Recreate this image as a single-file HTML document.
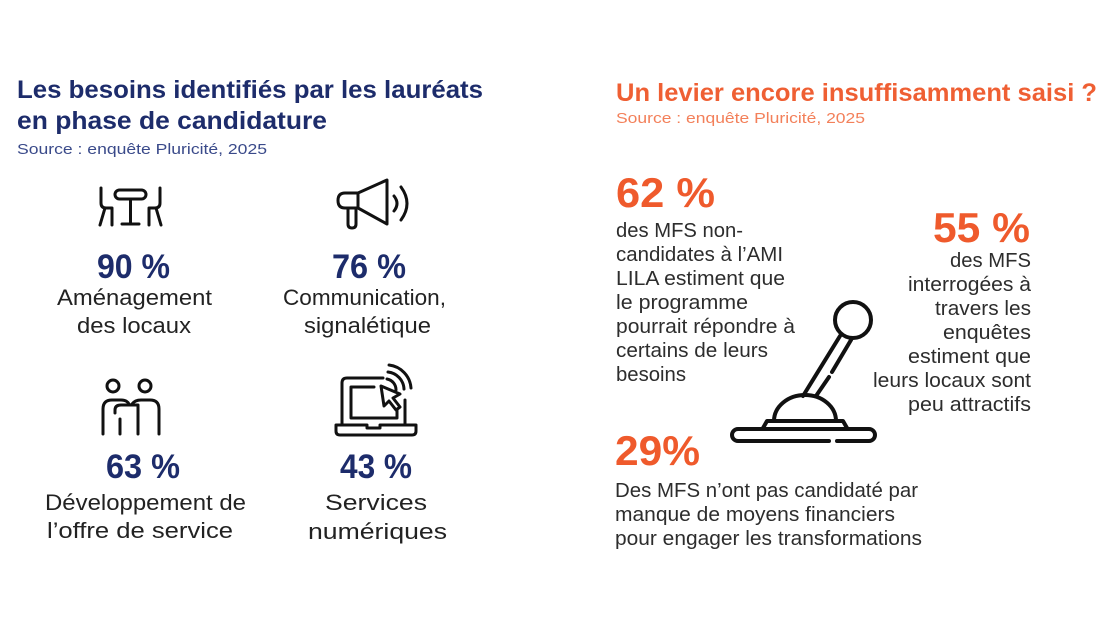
<!DOCTYPE html>
<html>
<head>
<meta charset="utf-8">
<style>
  html,body{margin:0;padding:0;background:#fff;}
  svg{display:block;}
  text{font-family:"Liberation Sans", Arial, sans-serif;}
</style>
</head>
<body>
<svg width="1118" height="630" viewBox="0 0 1118 630" xmlns="http://www.w3.org/2000/svg">
  <rect x="0" y="0" width="1118" height="630" fill="#ffffff"/>

  <!-- LEFT TITLE -->
  <text x="17" y="98" font-size="25" font-weight="bold" fill="#1d2c6b" textLength="466" lengthAdjust="spacingAndGlyphs">Les besoins identifiés par les lauréats</text>
  <text x="17" y="129" font-size="25" font-weight="bold" fill="#1d2c6b" textLength="310" lengthAdjust="spacingAndGlyphs">en phase de candidature</text>
  <text x="17" y="154" font-size="15" fill="#3a4a8a" textLength="250" lengthAdjust="spacingAndGlyphs">Source : enquête Pluricité, 2025</text>

  <!-- RIGHT TITLE -->
  <text x="616" y="101" font-size="25" font-weight="bold" fill="#ef5f33" textLength="481" lengthAdjust="spacingAndGlyphs">Un levier encore insuffisamment saisi ?</text>
  <text x="616" y="123" font-size="15" fill="#f3805a" textLength="249" lengthAdjust="spacingAndGlyphs">Source : enquête Pluricité, 2025</text>

  <!-- ICONS LEFT -->
  <g fill="none" stroke="#111" stroke-width="3" stroke-linecap="round" stroke-linejoin="round">
    <!-- table & chairs -->
    <path d="M101,188 V203 Q101,208 106,208 H112 V225 M105,208 L100,225"/>
    <path d="M160,188 V203 Q160,208 155,208 H149 V225 M156,208 L161,225"/>
    <rect x="115" y="190" width="31" height="9" rx="4.5"/>
    <path d="M130.5,199 V223 M122,224 H139"/>

    <!-- megaphone -->
    <path d="M358,193 H345 Q338,193 338,200.5 Q338,208 345,208 H358 Z"/>
    <path d="M358,193 L387,180 V224 L358,208 Z"/>
    <path d="M348,208 V224 Q348,228 352,228 Q356,228 356,224 V208"/>
    <path d="M394,196 Q400,203.5 394,211"/>
    <path d="M401,187 Q413,203.5 401,220"/>

    <!-- people -->
    <circle cx="113" cy="386" r="6"/>
    <circle cx="145" cy="386" r="6"/>
    <path d="M103,434 V409 Q103,400 112,400 H121 Q127,400 129,404"/>
    <path d="M159,434 V409 Q159,400 150,400 H141 Q135,400 132,404"/>
    <path d="M115,413 V410 Q115,405 121,405 H138 V434"/>
    <path d="M120,419 V434"/>

    <!-- laptop -->
    <path d="M383,378 H347 Q342,378 342,383 V425"/>
    <path d="M405,400 V425"/>
    <path d="M374,387 H351 V418 H397 V410"/>
    <path d="M336,425 H367 V428 H380 V425 H416 V431 Q416,435 412,435 H340 Q336,435 336,431 Z"/>
    <path d="M381,386 L384,406 L389,401 L396,410 L400,407 L393,398 L400,394 Z"/>
    <path d="M387,379 A11,11 0 0 1 396,390"/>
    <path d="M388,372 A18,18 0 0 1 404,389"/>
    <path d="M389,365 A25,25 0 0 1 411,388"/>
  </g>

  <!-- LEFT PERCENTAGES -->
  <g font-weight="bold" font-size="34" fill="#1d2c6b">
    <text x="97" y="278" textLength="73" lengthAdjust="spacingAndGlyphs">90 %</text>
    <text x="332" y="278" textLength="74" lengthAdjust="spacingAndGlyphs">76 %</text>
    <text x="106" y="478" textLength="74" lengthAdjust="spacingAndGlyphs">63 %</text>
    <text x="340" y="478" textLength="72" lengthAdjust="spacingAndGlyphs">43 %</text>
  </g>

  <!-- LEFT LABELS -->
  <g font-size="22" fill="#222">
    <text x="57" y="305" textLength="155" lengthAdjust="spacingAndGlyphs">Aménagement</text>
    <text x="77" y="333" textLength="114" lengthAdjust="spacingAndGlyphs">des locaux</text>
    <text x="283" y="305" textLength="163" lengthAdjust="spacingAndGlyphs">Communication,</text>
    <text x="304" y="333" textLength="127" lengthAdjust="spacingAndGlyphs">signalétique</text>
    <text x="45" y="510" textLength="201" lengthAdjust="spacingAndGlyphs">Développement  de</text>
    <text x="47" y="538" textLength="186" lengthAdjust="spacingAndGlyphs">l’offre de service</text>
    <text x="325" y="510" textLength="102" lengthAdjust="spacingAndGlyphs">Services</text>
    <text x="308" y="539" textLength="139" lengthAdjust="spacingAndGlyphs">numériques</text>
  </g>

  <!-- RIGHT PERCENTAGES -->
  <g font-weight="bold" font-size="42" fill="#ef5a2c">
    <text x="616" y="207" textLength="99" lengthAdjust="spacingAndGlyphs">62 %</text>
    <text x="933" y="242" textLength="97" lengthAdjust="spacingAndGlyphs">55 %</text>
    <text x="615" y="465" textLength="85" lengthAdjust="spacingAndGlyphs">29%</text>
  </g>

  <!-- RIGHT BODY TEXT -->
  <g font-size="20" fill="#2d2d2d">
    <text x="616" y="237" textLength="127" lengthAdjust="spacingAndGlyphs">des MFS non-</text>
    <text x="616" y="261" textLength="167" lengthAdjust="spacingAndGlyphs">candidates à l’AMI</text>
    <text x="616" y="285" textLength="169" lengthAdjust="spacingAndGlyphs">LILA estiment que</text>
    <text x="616" y="309" textLength="132" lengthAdjust="spacingAndGlyphs">le programme</text>
    <text x="616" y="333" textLength="179" lengthAdjust="spacingAndGlyphs">pourrait répondre à</text>
    <text x="616" y="357" textLength="152" lengthAdjust="spacingAndGlyphs">certains de leurs</text>
    <text x="616" y="381" textLength="70" lengthAdjust="spacingAndGlyphs">besoins</text>

    <text x="950" y="267" textLength="81" lengthAdjust="spacingAndGlyphs">des MFS</text>
    <text x="908" y="291" textLength="123" lengthAdjust="spacingAndGlyphs">interrogées à</text>
    <text x="935" y="315" textLength="96" lengthAdjust="spacingAndGlyphs">travers les</text>
    <text x="943" y="339" textLength="88" lengthAdjust="spacingAndGlyphs">enquêtes</text>
    <text x="908" y="363" textLength="123" lengthAdjust="spacingAndGlyphs">estiment que</text>
    <text x="873" y="387" textLength="158" lengthAdjust="spacingAndGlyphs">leurs locaux sont</text>
    <text x="908" y="411" textLength="123" lengthAdjust="spacingAndGlyphs">peu attractifs</text>

    <text x="615" y="497" textLength="303" lengthAdjust="spacingAndGlyphs">Des MFS n’ont pas candidaté par</text>
    <text x="615" y="521" textLength="280" lengthAdjust="spacingAndGlyphs">manque de moyens financiers</text>
    <text x="615" y="545" textLength="307" lengthAdjust="spacingAndGlyphs">pour engager les transformations</text>
  </g>

  <!-- JOYSTICK -->
  <g fill="none" stroke="#111" stroke-width="4" stroke-linecap="round" stroke-linejoin="round">
    <circle cx="853" cy="320" r="18"/>
    <path d="M840,336 L803,396"/>
    <path d="M851,340 L832,372 M829,377 L816,396"/>
    <path d="M774,421 A31,26 0 0 1 836,421"/>
    <path d="M763,428 L767,421 H843 L847,428"/>
    <path d="M829,441 H738 A6,6 0 0 1 738,429 H869 A6,6 0 0 1 869,441 H837"/>
  </g>
</svg>
</body>
</html>
